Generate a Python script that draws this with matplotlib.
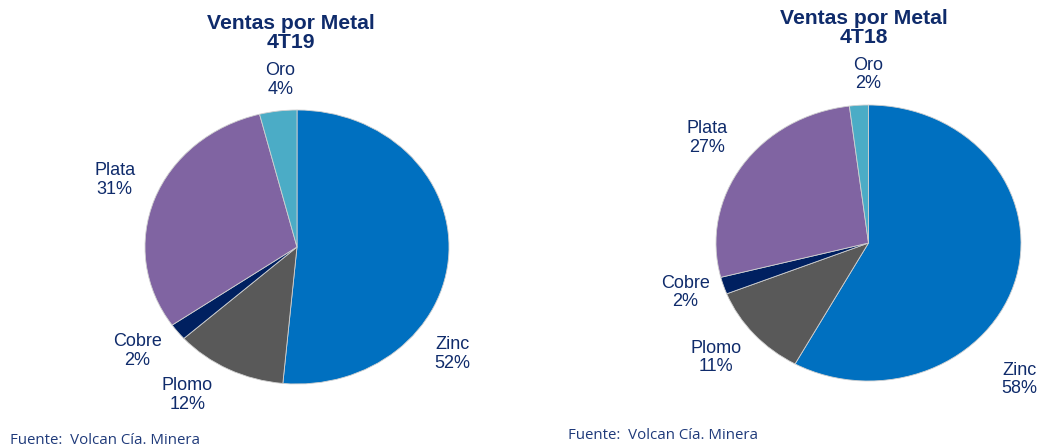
import matplotlib
matplotlib.use("Agg")
import matplotlib.pyplot as plt

# Data
metales = ["Zinc", "Plomo", "Cobre", "Plata", "Oro"]
ventas_4t19 = [52, 12, 2, 31, 4]
ventas_4t18 = [58, 11, 2, 27, 2]
titulos = ["Ventas por Metal\n4T19", "Ventas por Metal\n4T18"]
fuente = "Fuente:  Volcan Cía. Minera"

colores = ["#0070C0", "#595959", "#002060", "#8064A2", "#4BACC6"]
txt_color = "#0F2B6B"

plt.rcParams["font.family"] = ["Liberation Sans", "DejaVu Sans"]

W, H = 1039, 448
fig = plt.figure(figsize=(W / 100, H / 100), dpi=100)

def px_axes(x0, x1, y0, y1):
    return fig.add_axes([x0 / W, (H - y1) / H, (x1 - x0) / W, (y1 - y0) / H])

# label positions in axes coordinates (layout)
pos_left = [(1.02, -0.78), (-0.72, -1.08), (-1.05, -0.76), (-1.20, 0.49), (-0.11, 1.22)]
pos_right = [(0.99, -0.99), (-1.0, -0.83), (-1.20, -0.36), (-1.06, 0.76), (0.0, 1.22)]

specs = [
    (ventas_4t19, px_axes(145, 449, 110, 384), pos_left, titulos[0], (291, 33)),
    (ventas_4t18, px_axes(716, 1021, 105, 381), pos_right, titulos[1], (864, 28)),
]

for vals, ax, poss, title, (tx, ty) in specs:
    ax.pie(vals, colors=colores, startangle=90, counterclock=False, radius=1,
           wedgeprops=dict(edgecolor="#d0d0d0", linewidth=0.6))
    ax.set_aspect("auto")
    ax.set_xlim(-1, 1)
    ax.set_ylim(-1, 1)
    ax.axis("off")
    for name, v, (x, y) in zip(metales, vals, poss):
        ax.text(x, y, f"{name}\n{v}%", ha="center", va="center", fontsize=13,
                color=txt_color, linespacing=1.12, clip_on=False)
    fig.text(tx / W, 1 - ty / H, title, ha="center", va="center",
             fontsize=15.2, fontweight="bold", color=txt_color, linespacing=0.98)

fig.text(10 / W, 1 - 440 / H, fuente, ha="left", va="center", fontsize=10.8,
         color="#1F3A7A", family=["Open Sans", "DejaVu Sans"])
fig.text(568 / W, 1 - 435 / H, fuente, ha="left", va="center", fontsize=10.8,
         color="#1F3A7A", family=["Open Sans", "DejaVu Sans"])

fig.savefig("out.png", dpi=100, facecolor="white")
